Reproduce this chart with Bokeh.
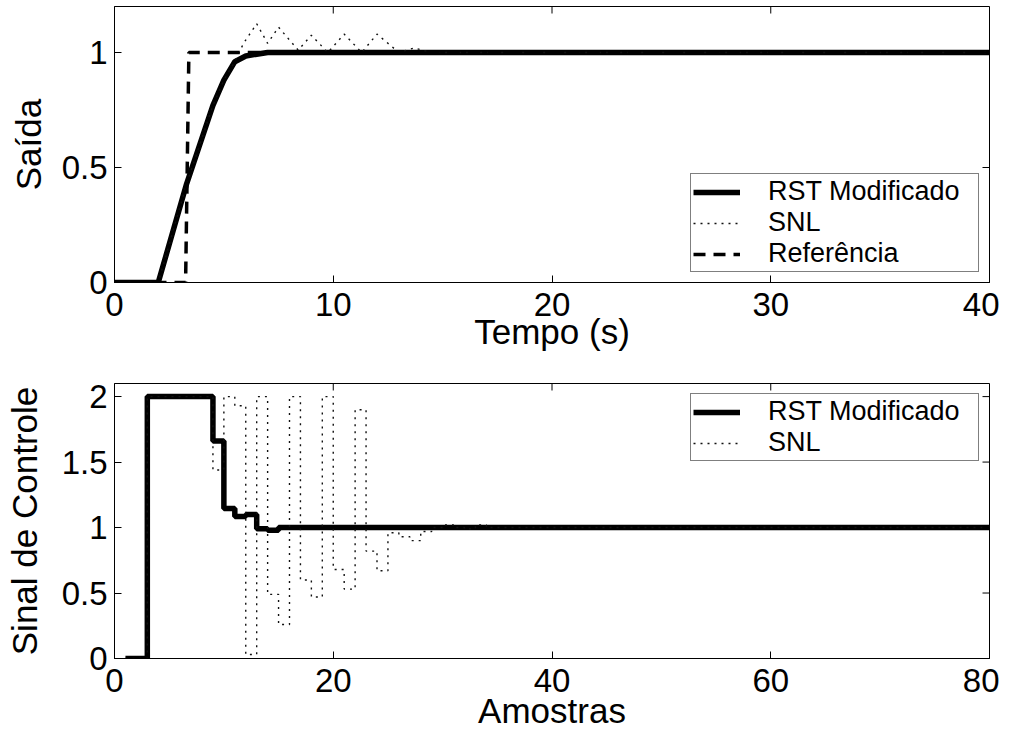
from bokeh.plotting import figure
from bokeh.layouts import column
from bokeh.models import Legend, LegendItem, Range1d, FixedTicker
from bokeh.embed import file_html
from bokeh.resources import INLINE

# ---- top plot data (time in s) ----
t_rst = [0, 2.0, 3.3, 4.5, 5.0, 5.5, 6.0, 7.0, 8.0, 40]
y_rst = [0, 0, 0.43, 0.77, 0.88, 0.96, 0.985, 1.0, 1.0, 1.0]

t_snl = [0, 2.0, 3.3, 4.5, 5.0, 5.5, 5.9, 6.5, 7.0, 7.5, 8.4, 9.0, 9.75, 10.5, 11.3, 12.0, 13.0, 13.7, 14.5, 40]
y_snl = [0, 0, 0.43, 0.77, 0.88, 0.96, 1.04, 1.125, 1.04, 1.11, 1.01, 1.075, 1.0, 1.08, 1.0, 1.08, 1.0, 1.02, 1.0, 1.0]

t_ref = [0, 3.25, 3.4, 40]
y_ref = [0, 0, 1, 1]

top_x_range = (0, 40)
top_y_range = (0, 1.2)
top_x_ticks = [0, 10, 20, 30, 40]
top_y_ticks = [0, 0.5, 1]
top_y_labels = ["0", "0.5", "1"]

# ---- bottom plot data (samples) ----
k_rst = [1, 3, 9, 10, 11, 12, 13, 14, 15, 80]
u_rst = [0, 2, 1.66, 1.145, 1.085, 1.10, 0.99, 0.98, 1.0, 1.0]

k_snl = [1, 3, 9, 10, 11, 12, 13, 14, 15, 16, 17, 18, 19, 20, 21, 22, 23, 24, 25, 26, 27, 28, 29, 30, 31, 32, 33, 34, 80]
u_snl = [0, 2, 1.44, 2.0, 1.93, 0.03, 2.0, 0.49, 0.26, 2.0, 0.6, 0.47, 2.0, 0.68, 0.53, 1.9, 0.82, 0.67, 0.96, 0.93, 0.90, 0.97, 1.0, 1.02, 1.0, 0.99, 1.02, 1.0, 1.0]

bot_x_range = (0, 80)
bot_y_range = (0, 2.1)
bot_x_ticks = [0, 20, 40, 60, 80]
bot_y_ticks = [0, 0.5, 1, 1.5, 2]
bot_y_labels = ["0", "0.5", "1", "1.5", "2"]

FONT = "Liberation Sans"
TICK_SIZE = "33px"
LABEL_SIZE = "35px"
LEG_SIZE = "27px"
TICK_LEN = 7


def style_axis(ax, ticks, labels=None):
    ax.ticker = FixedTicker(ticks=ticks)
    if labels is not None:
        ax.major_label_overrides = {t: l for t, l in zip(ticks, labels)}
    ax.major_tick_in = TICK_LEN
    ax.major_tick_out = 0
    ax.minor_tick_line_color = None
    ax.axis_line_color = "black"
    ax.axis_line_width = 1
    ax.major_tick_line_color = "black"
    ax.major_label_text_font = FONT
    ax.major_label_text_font_size = TICK_SIZE
    ax.major_label_text_color = "black"
    ax.axis_label_text_font = FONT
    ax.axis_label_text_font_style = "normal"
    ax.axis_label_text_font_size = LABEL_SIZE
    ax.axis_label_text_color = "black"


def make_fig(xr, yr, fh, top_border, bottom_border):
    p = figure(frame_width=875, frame_height=fh, x_range=Range1d(*xr), y_range=Range1d(*yr),
               output_backend="svg", toolbar_location=None,
               min_border_left=114, min_border_right=10,
               min_border_top=top_border, min_border_bottom=bottom_border)
    p.grid.visible = False
    p.outline_line_color = "black"
    p.outline_line_width = 1
    p.background_fill_color = "white"
    p.border_fill_color = "white"
    return p


def finish_axes(p, xr, yr, xt, yt, ylab, xlabel, ylabel, xl_standoff, yl_standoff):
    style_axis(p.xaxis[0], xt)
    style_axis(p.yaxis[0], yt, ylab)
    p.xaxis[0].major_label_standoff = 10
    p.yaxis[0].major_label_standoff = 7
    p.xaxis[0].axis_label = xlabel
    p.yaxis[0].axis_label = ylabel
    p.xaxis[0].axis_label_standoff = xl_standoff
    p.yaxis[0].axis_label_standoff = yl_standoff
    # inward tick marks on the top and right sides of the box
    p.ray(x=xt, y=[yr[1]] * len(xt), length=TICK_LEN, length_units="screen",
          angle=-90, angle_units="deg", color="black", line_width=1)
    p.ray(x=[xr[1]] * len(yt), y=yt, length=TICK_LEN, length_units="screen",
          angle=180, angle_units="deg", color="black", line_width=1)


def make_legend(items, loc):
    leg = Legend(items=items, location=loc)
    leg.label_text_font = FONT
    leg.label_text_font_size = LEG_SIZE
    leg.label_text_color = "black"
    leg.glyph_width = 47
    leg.glyph_height = 24
    leg.label_height = 24
    leg.label_width = 208
    leg.label_standoff = 28
    leg.spacing = 0
    leg.padding = 2
    leg.margin = 10
    leg.border_line_color = "black"
    leg.border_line_width = 1
    leg.background_fill_color = "white"
    leg.background_fill_alpha = 1
    return leg


DOT = dict(line_width=1.4, line_dash="2 5", color="#111111")

# ---- top figure ----
p1 = make_fig(top_x_range, top_y_range, 276, 6, 85)
r1 = p1.line(t_rst, y_rst, line_width=5.5, color="black")
r2 = p1.line(t_snl, y_snl, **DOT)
r3 = p1.line(t_ref, y_ref, line_width=3.5, line_dash="12 8", color="black")
finish_axes(p1, top_x_range, top_y_range, top_x_ticks, top_y_ticks, top_y_labels,
            "Tempo (s)", "Saída", -7, 11)
p1.add_layout(make_legend([LegendItem(label="RST Modificado", renderers=[r1]),
                           LegendItem(label="SNL", renderers=[r2]),
                           LegendItem(label="Referência", renderers=[r3])], "bottom_right"))

# ---- bottom figure ----
p2 = make_fig(bot_x_range, bot_y_range, 275, 16, 60)
s1 = p2.step(k_rst, u_rst, mode="after", line_width=5.5, color="black")
s2 = p2.step(k_snl, u_snl, mode="after", **DOT)
finish_axes(p2, bot_x_range, bot_y_range, bot_x_ticks, bot_y_ticks, bot_y_labels,
            "Amostras", "Sinal de Controle", -4, 15)
p2.add_layout(make_legend([LegendItem(label="RST Modificado", renderers=[s1]),
                           LegendItem(label="SNL", renderers=[s2])], "top_right"))

layout = column(p1, p2, spacing=0)
open("out.html", "w").write(file_html(layout, INLINE))
